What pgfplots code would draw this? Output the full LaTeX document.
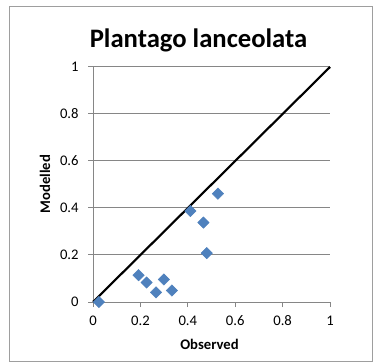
\documentclass[border=0pt]{standalone}
\usepackage{fontspec}
\setmainfont{Carlito}
\usepackage{pgfplots}
\pgfplotsset{compat=1.18}
\definecolor{markblue}{RGB}{79,129,189}
\definecolor{axisgray}{RGB}{134,134,134}
\begin{document}
\begin{tikzpicture}[x=0.75pt,y=0.75pt]
  % canvas and chart frame
  \fill[white] (0,0) rectangle (377,363);
  \draw[axisgray!80, line width=0.75pt] (9,2) rectangle (372,356);
  \begin{axis}[
    at={(69.75pt,45.75pt)}, anchor=origin,
    scale only axis, width=177.75pt, height=176.25pt,
    xmin=0, xmax=1, ymin=0, ymax=1,
    xtick={0,0.2,...,1}, ytick={0,0.2,...,1},
    axis x line*=bottom, axis y line*=left,
    axis line style={axisgray, line width=0.75pt},
    ymajorgrids, grid style={axisgray, line width=0.75pt},
    tick align=outside, major tick length=3.75pt,
    tick style={axisgray, line width=0.75pt},
    every tick label/.append style={font=\fontsize{11}{13}\selectfont},
    xticklabel style={yshift=-3pt},
    yticklabel style={xshift=-3.5pt},
    /pgf/number format/assume math mode=true,
    clip=false,
  ]
    \addplot[black, line width=1.6pt] coordinates {(0,0) (1,1)};
    \addplot[only marks, mark=square*, mark size=3pt,
      mark options={rotate=45, fill=markblue, draw=markblue}]
      coordinates {
        (0.025,0.000)
        (0.192,0.114)
        (0.226,0.083)
        (0.266,0.041)
        (0.299,0.096)
        (0.333,0.049)
        (0.411,0.387)
        (0.466,0.338)
        (0.480,0.208)
        (0.527,0.461)
      };
  \end{axis}
  \node[anchor=base, inner sep=0pt, font=\fontsize{20}{24}\bfseries] at (198.5,315) {Plantago lanceolata};
  \node[anchor=base, inner sep=0pt, font=\fontsize{11}{13}\bfseries] at (209.5,14) {Observed};
  \node[anchor=base, inner sep=0pt, rotate=90, font=\fontsize{11}{13}\bfseries] at (50,179) {Modelled};
\end{tikzpicture}
\end{document}
